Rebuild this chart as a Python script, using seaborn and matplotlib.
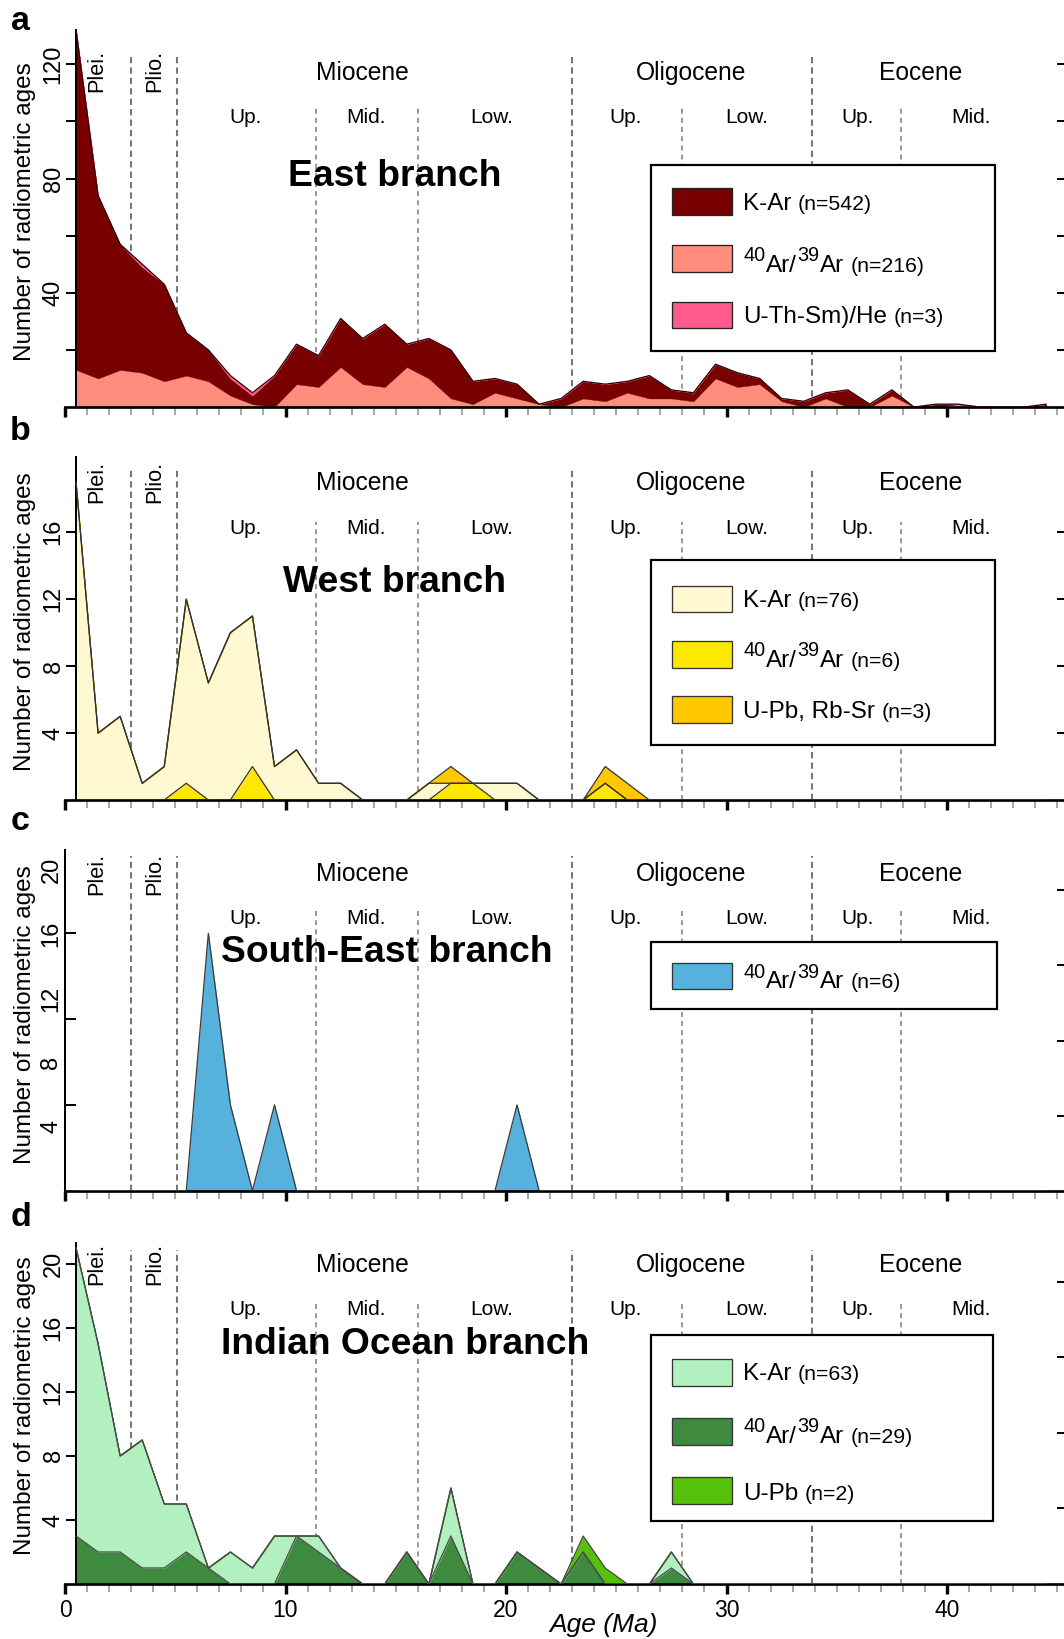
import numpy as np
import pandas as pd
import matplotlib
matplotlib.use("Agg")
import matplotlib.pyplot as plt
import seaborn as sns
from matplotlib.patches import Rectangle
from matplotlib.ticker import FixedLocator, MultipleLocator

# ---------------- data ----------------
age_bins = [a + 0.5 for a in range(45)]  # bin centres, Ma

# (a) East branch
east_kar = [119, 64, 44, 37, 34, 15, 11, 6, 3, 11,
            14, 11, 17, 16, 22, 8, 14, 17, 8, 5,
            5, 0, 3, 6, 6, 4, 8, 3, 3, 5,
            5, 2, 1, 2, 2, 6, 1, 2, 0, 1,
            0, 0, 0, 0, 1]
east_ar = [13, 10, 13, 12, 9, 11, 9, 4, 1, 0,
           8, 7, 14, 8, 7, 14, 10, 3, 1, 5,
           3, 1, 0, 3, 2, 5, 3, 3, 2, 10,
           7, 8, 2, 0, 3, 0, 0, 4, 0, 0,
           1, 0, 0, 0, 0]
east_he = [0, 0, 0, 1, 0, 0, 0, 1, 1, 0,
           0, 0, 0, 0, 0, 0, 0, 0, 0, 0,
           0, 0, 0, 0, 0, 0, 0, 0, 0, 0,
           0, 0, 0, 0, 0, 0, 0, 0, 0, 0,
           0, 0, 0, 0, 0]

# (b) West branch
west_kar = [19, 4, 5, 1, 2, 11, 7, 10, 9, 2,
            3, 1, 1, 0, 0, 0, 1, 0, 0, 1,
            1, 0, 0, 0, 0, 0, 0, 0, 0, 0,
            0, 0, 0, 0, 0, 0, 0, 0, 0, 0,
            0, 0, 0, 0, 0]
west_ar = [0, 0, 0, 0, 0, 1, 0, 0, 2, 0,
           0, 0, 0, 0, 0, 0, 0, 1, 1, 0,
           0, 0, 0, 0, 1, 0, 0, 0, 0, 0,
           0, 0, 0, 0, 0, 0, 0, 0, 0, 0,
           0, 0, 0, 0, 0]
west_upb = [0, 0, 0, 0, 0, 0, 0, 0, 0, 0,
            0, 0, 0, 0, 0, 0, 0, 1, 0, 0,
            0, 0, 0, 0, 1, 1, 0, 0, 0, 0,
            0, 0, 0, 0, 0, 0, 0, 0, 0, 0,
            0, 0, 0, 0, 0]

# (c) South-East branch
se_ar = [0, 0, 0, 0, 0, 0, 3, 1, 0, 1,
         0, 0, 0, 0, 0, 0, 0, 0, 0, 0,
         1, 0, 0, 0, 0, 0, 0, 0, 0, 0,
         0, 0, 0, 0, 0, 0, 0, 0, 0, 0,
         0, 0, 0, 0, 0]

# (d) Indian Ocean branch
io_kar = [18, 13, 6, 8, 4, 3, 0, 2, 1, 3,
          0, 1, 0, 0, 0, 0, 0, 3, 0, 0,
          0, 0, 0, 0, 0, 0, 0, 1, 0, 0,
          0, 0, 0, 0, 0, 0, 0, 0, 0, 0,
          0, 0, 0, 0, 0]
io_ar = [3, 2, 2, 1, 1, 2, 1, 0, 0, 0,
         3, 2, 1, 0, 0, 2, 0, 3, 0, 0,
         2, 1, 0, 2, 0, 0, 0, 1, 0, 0,
         0, 0, 0, 0, 0, 0, 0, 0, 0, 0,
         0, 0, 0, 0, 0]
io_upb = [0, 0, 0, 0, 0, 0, 0, 0, 0, 0,
          0, 0, 0, 0, 0, 0, 0, 0, 0, 0,
          0, 0, 0, 1, 1, 0, 0, 0, 0, 0,
          0, 0, 0, 0, 0, 0, 0, 0, 0, 0,
          0, 0, 0, 0, 0]

# time scale
epoch_bounds = [3.0, 5.1, 23.0, 33.9]
stage_bounds = [11.4, 16.0, 28.0, 37.9]
epoch_names = ["Miocene", "Oligocene", "Eocene"]
epoch_pos = [13.5, 28.4, 38.8]
stage_names = ["Up.", "Mid.", "Low.", "Up.", "Low.", "Up.", "Mid."]
stage_pos = [8.2, 13.65, 19.35, 25.4, 30.9, 35.95, 41.1]
short_names = ["Plei.", "Plio."]
short_pos = [1.43, 4.08]

x_major = [0, 10, 20, 30, 40]

# legend texts
leg_a_methods = ["K-Ar", "40Ar/39Ar", "U-Th-Sm)/He"]
leg_a_n = ["(n=542)", "(n=216)", "(n=3)"]
leg_b_methods = ["K-Ar", "40Ar/39Ar", "U-Pb, Rb-Sr"]
leg_b_n = ["(n=76)", "(n=6)", "(n=3)"]
leg_c_methods = ["40Ar/39Ar"]
leg_c_n = ["(n=6)"]
leg_d_methods = ["K-Ar", "40Ar/39Ar", "U-Pb"]
leg_d_n = ["(n=63)", "(n=29)", "(n=2)"]

# y ticks
a_yticks = [20, 40, 60, 80, 100, 120]
a_ylabels = ["", "40", "", "80", "", "120"]
b_yticks = [4, 8, 12, 16]
b_ylabels = ["4", "8", "12", "16"]
c_ytick_marks = [1, 2, 3]
c_label_pos = [0.747, 1.494, 2.241, 2.988, 3.735]
c_ylabels = ["4", "8", "12", "16", "20"]
c_rticks = [0.875, 1.75, 2.625, 3.5]
d_yticks = [4, 8, 12, 16, 20]
d_ylabels = ["4", "8", "12", "16", "20"]
d_rticks = [4.72, 9.44, 14.16, 18.88]

# ---------------- style ----------------
sns.set_theme(style="ticks")
plt.rcParams['font.family'] = ['Liberation Sans', 'DejaVu Sans']
plt.rcParams['axes.edgecolor'] = 'black'
plt.rcParams['xtick.color'] = 'black'
plt.rcParams['ytick.color'] = 'black'
plt.rcParams['text.color'] = 'black'

W, H = 1064, 1639
fig = plt.figure(figsize=(W / 100, H / 100), dpi=100)
fig.patch.set_facecolor('white')
X0 = 65.0       # px of age 0
PXMA = 22.05    # px per Ma
XMAX = (W - X0) / PXMA
TICKFS = 17
YLAB_X = 25.5
TLAB_X = 53.5


def fx(px):
    return px / W


def fy(py):
    return 1 - py / H


def px2pt(p):
    return p * 72 / 100


def make_axes(top_px, bot_px):
    return fig.add_axes([fx(X0), fy(bot_px), 1 - fx(X0), (bot_px - top_px) / H])


def draw_layers(ax, layers, edge, lw=0.9, outline_idx=None):
    x = np.array(age_bins)
    base = np.zeros(len(x))
    tops = []
    for vals, color in layers:
        top = base + np.array(vals, dtype=float)
        ax.fill_between(x, base, top, facecolor=color, edgecolor=color, lw=0.3, zorder=2)
        tops.append(top)
        base = top
    idxs = range(len(tops)) if outline_idx is None else outline_idx
    for i in idxs:
        sns.lineplot(x=x, y=tops[i], ax=ax, color=edge, lw=lw, zorder=3,
                     legend=False, errorbar=None, sort=False)


def timescale(ax, ep_line_top, st_line_top, ep_y, st_y, sh_y):
    tr = ax.get_xaxis_transform()
    for b in epoch_bounds:
        ax.axvline(b, ymin=0, ymax=ep_line_top, color='#777777', lw=1.5,
                   ls=(0, (3, 2)), zorder=1)
    for b in stage_bounds:
        ax.axvline(b, ymin=0, ymax=st_line_top, color='#888888', lw=1.2,
                   ls=(0, (3, 2.5)), zorder=1)
    for n, p in zip(epoch_names, epoch_pos):
        ax.text(p, ep_y, n, transform=tr, ha='center', va='center', fontsize=17.7, zorder=4)
    for n, p in zip(stage_names, stage_pos):
        ax.text(p, st_y, n, transform=tr, ha='center', va='center', fontsize=15, zorder=4)
    for n, p in zip(short_names, short_pos):
        ax.text(p, sh_y, n, transform=tr, ha='center', va='center', fontsize=15.6,
                rotation=90, zorder=4)


def style_axes(ax, ytop, spine_x, show_xlabels):
    ax.set_xlim(0, XMAX)
    ax.set_ylim(0, ytop)
    ax.set_xlabel('')
    ax.set_ylabel('')
    ax.grid(False)
    ax.spines['top'].set_visible(False)
    ax.spines['right'].set_visible(False)
    ax.spines['left'].set_position(('data', spine_x))
    ax.spines['left'].set_linewidth(px2pt(2.0))
    ax.spines['bottom'].set_linewidth(px2pt(2.7))
    ax.xaxis.set_major_locator(FixedLocator(x_major))
    ax.xaxis.set_minor_locator(MultipleLocator(1))
    ax.tick_params(axis='x', which='major', direction='out', length=px2pt(10),
                   width=px2pt(3.4), color='black', labelsize=16.5, pad=3.5,
                   labelbottom=show_xlabels)
    ax.tick_params(axis='x', which='minor', direction='out', length=px2pt(8),
                   width=px2pt(1.5), color='#8c8c8c')
    ax.tick_params(axis='y', which='minor', left=False, right=False)


def left_ticks(ax, ticks, labels, spine_x_px):
    ax.set_yticks(ticks)
    ax.set_yticklabels(labels, rotation=90, va='center', ha='center')
    pad_px = spine_x_px - 10 - TLAB_X
    ax.tick_params(axis='y', which='major', direction='out', length=px2pt(10),
                   width=px2pt(2.0), labelsize=TICKFS, pad=px2pt(pad_px))


def right_ticks(ax, ticks):
    axr = ax.twinx()
    axr.set_ylim(ax.get_ylim())
    for s in axr.spines.values():
        s.set_visible(False)
    axr.grid(False)
    axr.set_yticks(ticks)
    axr.tick_params(axis='y', which='major', right=True, left=False, direction='in',
                    length=px2pt(7.5), width=px2pt(2.0), labelright=False)
    axr.tick_params(axis='y', which='minor', right=False, left=False)
    axr.set_ylabel('')


def ylabel(ypx):
    fig.text(fx(YLAB_X), fy(ypx), "Number of radiometric ages", rotation=90,
             ha='center', va='center', fontsize=17.5)


def pieces_for(method):
    if method.startswith("40Ar/39Ar"):
        return [("40", 14.3, 11), ("Ar/", 17.5, 0), ("39", 14.3, 11), ("Ar", 17.5, 0)]
    return [(method, 17.5, 0)]


def legend(box, rows, colors, edges, methods, ns, offs):
    x0, y0, x1, y1 = box
    fig.add_artist(Rectangle((fx(x0), fy(y1)), (x1 - x0) / W, (y1 - y0) / H,
                             transform=fig.transFigure, facecolor='white',
                             edgecolor='black', lw=px2pt(2.2), zorder=5))
    r = fig.canvas.get_renderer()
    for yc, col, ec, meth, n, off in zip(rows, colors, edges, methods, ns, offs):
        fig.add_artist(Rectangle((fx(671.5), fy(yc + 13.3)), 60.3 / W, 26.6 / H,
                                 transform=fig.transFigure, facecolor=col,
                                 edgecolor=ec, lw=px2pt(1.3), zorder=6))
        xcur = 743.0
        base = yc + off
        for s, fs, rise in pieces_for(meth):
            t = fig.text(fx(xcur), fy(base - rise), s, ha='left', va='baseline',
                         fontsize=fs, zorder=7)
            bb = t.get_window_extent(renderer=r)
            xcur = bb.x1 + 0.5
        fig.text(fx(xcur + 6), fy(base), n, ha='left', va='baseline',
                 fontsize=15.3, zorder=7)


def title(xpx, ypx, s):
    fig.text(fx(xpx), fy(ypx), s, ha='center', va='center', fontsize=26.8,
             fontweight='bold', zorder=8)


def letter(xpx, ypx, s):
    fig.text(fx(xpx), fy(ypx), s, ha='center', va='center', fontsize=24.5,
             fontweight='bold')


# ---------------- panel a ----------------
axa = make_axes(30, 407)
style_axes(axa, 132, 0.5, False)
timescale(axa, 0.928, 0.793, 0.886, 0.769, 0.891)
draw_layers(axa, [(east_ar, '#FF8C7C'), (east_kar, '#780000'), (east_he, '#FF5A8C')],
            edge='#2a0000', lw=0.9, outline_idx=[2])
left_ticks(axa, a_yticks, a_ylabels, 76)
right_ticks(axa, a_yticks)
ylabel(212)
title(395, 176, "East branch")
letter(20, 22, "a")
legend((651, 165, 995, 351), [201.7, 258.3, 315],
       ['#780000', '#FF8C7C', '#FF5A8C'], ['#222222'] * 3,
       leg_a_methods, leg_a_n, [8.3, 13.4, 8.0])

# ---------------- panel b ----------------
axb = make_axes(457, 800)
style_axes(axb, 20.5, 0.5, False)
timescale(axb, 0.962, 0.811, 0.924, 0.793, 0.928)
draw_layers(axb, [(west_ar, '#FFE800'), (west_kar, '#FFF8D0'), (west_upb, '#FFC800')],
            edge='#333333', lw=0.9)
left_ticks(axb, b_yticks, b_ylabels, 76)
right_ticks(axb, b_yticks)
ylabel(622)
title(395, 582, "West branch")
letter(20, 431, "b")
legend((651, 560, 995, 745), [599, 654.2, 709.7],
       ['#FFF8D0', '#FFE800', '#FFC800'], ['#333333'] * 3,
       leg_b_methods, leg_b_n, [7.7, 12.5, 8.6])

# ---------------- panel c ----------------
axc = make_axes(850, 1190.7)
style_axes(axc, 3.97, 0.0, False)
timescale(axc, 0.981, 0.832, 0.931, 0.799, 0.931)
draw_layers(axc, [(se_ar, '#57B1DD')], edge='#3a3a3a', lw=0.9)
axc.set_yticks(c_label_pos)
axc.set_yticklabels(c_ylabels, rotation=90, va='center', ha='center')
axc.tick_params(axis='y', which='major', direction='in', length=0,
                labelsize=TICKFS, pad=px2pt(65 - TLAB_X + 2))
axc.yaxis.set_minor_locator(FixedLocator(c_ytick_marks))
axc.tick_params(axis='y', which='minor', left=True, direction='in',
                length=px2pt(11), width=px2pt(2.0))
right_ticks(axc, c_rticks)
ylabel(1015)
title(387, 953, "South-East branch")
letter(20, 821, "c")
legend((651, 942, 997, 1009), [976], ['#57B1DD'], ['#333333'],
       leg_c_methods, leg_c_n, [12.5])

# ---------------- panel d ----------------
axd = make_axes(1243, 1584)
style_axes(axd, 21.3, 0.5, True)
timescale(axd, 0.979, 0.833, 0.935, 0.804, 0.938)
draw_layers(axd, [(io_ar, '#3E8A3E'), (io_kar, '#B3F0C0'), (io_upb, '#55C10A')],
            edge='#4a4a4a', lw=0.9)
left_ticks(axd, d_yticks, d_ylabels, 76)
right_ticks(axd, d_rticks)
ylabel(1406)
title(405, 1345, "Indian Ocean branch")
letter(21, 1217, "d")
legend((651, 1335, 993, 1521), [1372.2, 1431.3, 1490.3],
       ['#B3F0C0', '#3E8A3E', '#55C10A'], ['#333333'] * 3,
       leg_d_methods, leg_d_n, [8.0, 11.4, 9.7])
fig.text(fx(603), fy(1625), "Age (Ma)", ha='center', va='center', fontsize=19,
         style='italic')

fig.savefig("out.png", dpi=100, facecolor='white')
